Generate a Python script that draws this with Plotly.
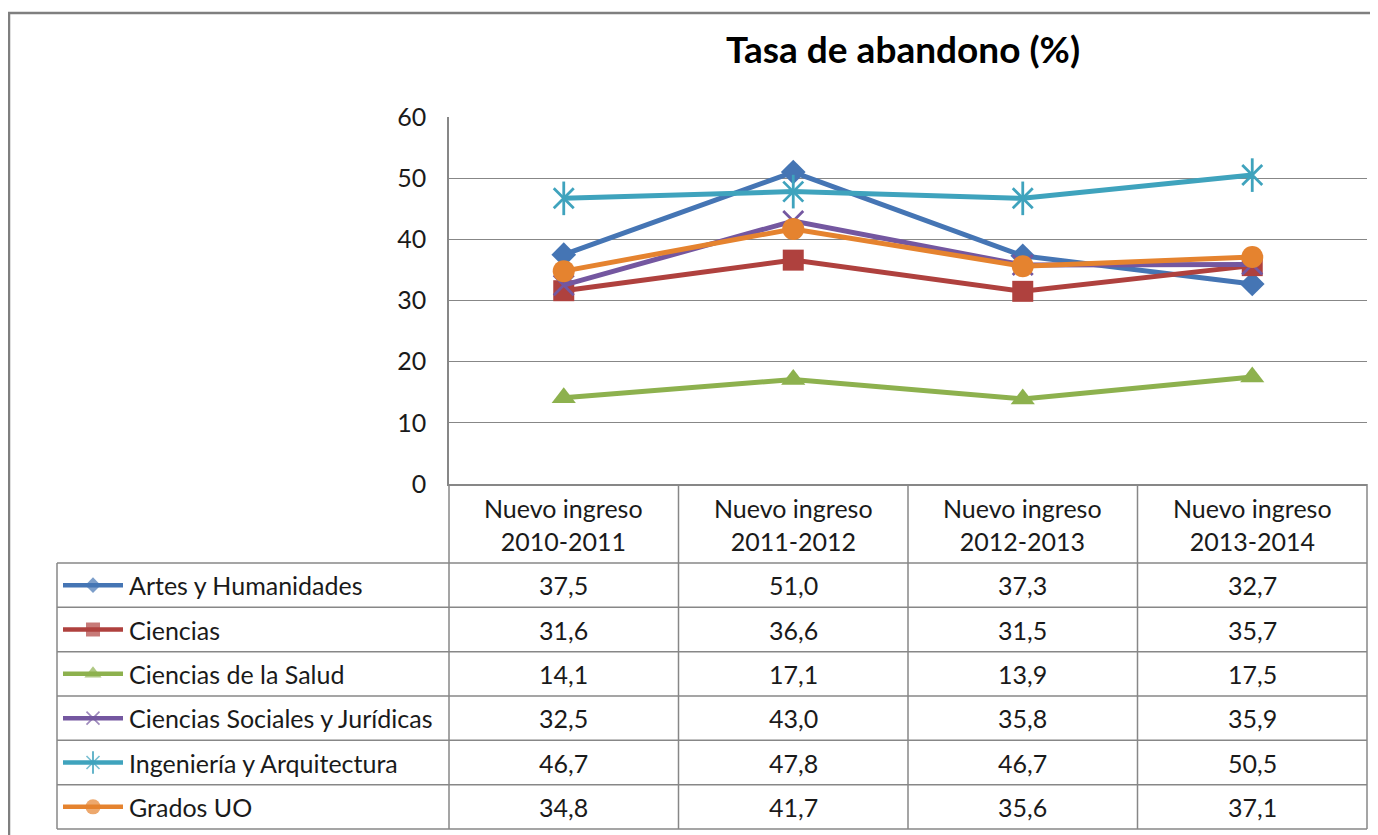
import plotly.graph_objects as go

# ---------------- data ----------------
categories = ["Nuevo ingreso<br>2010-2011", "Nuevo ingreso<br>2011-2012",
              "Nuevo ingreso<br>2012-2013", "Nuevo ingreso<br>2013-2014"]
series_names = ["Artes y Humanidades", "Ciencias", "Ciencias de la Salud",
                "Ciencias Sociales y Jurídicas", "Ingeniería y Arquitectura", "Grados UO"]
artes = [37.5, 51.0, 37.3, 32.7]
ciencias = [31.6, 36.6, 31.5, 35.7]
salud = [14.1, 17.1, 13.9, 17.5]
sociales = [32.5, 43.0, 35.8, 35.9]
ingenieria = [46.7, 47.8, 46.7, 50.5]
grados = [34.8, 41.7, 35.6, 37.1]
y_ticks = [0, 10, 20, 30, 40, 50, 60]
title_text = "Tasa de abandono (%)"

values = [artes, ciencias, salud, sociales, ingenieria, grados]
colors = ["#4575B4", "#AF413E", "#8DB14E", "#7457A0", "#3FA3BD", "#E5832F"]
symbols = ["diamond", "square", "triangle-up", "x-thin-open", "x-thin-open", "circle"]
msizes = [19, 21, 21, 20, 20, 22]          # chart markers
ksizes = [12, 14, 15, 13, 13, 15]          # table legend key markers
STAR = 4  # series drawn with a 6-armed star (x + vertical bar)

W, H = 1378, 835
OFF = 8                     # page offset of the figure inside the browser
FONT = "Lato"
GRID = "#878787"
TXT = "#1a1a1a"
FS = 25

# geometry in screen pixels
PL, PR = 449, 1367
PT, PB = 117, 484
TL = 57
HDR_B = 563
TB = 829
ROW_H = (TB - HDR_B) / len(series_names)

def px(x):
    return (x - OFF) / W

def py(y):
    return 1 - (y - OFF) / H

fig = go.Figure()

# ---------------- chart lines ----------------
for k, (name, vals, c, s, ms) in enumerate(zip(series_names, values, colors, symbols, msizes)):
    open_sym = s.endswith("open")
    fig.add_trace(go.Scatter(
        x=categories, y=vals, mode="lines+markers", name=name,
        line=dict(color=c, width=5),
        marker=dict(symbol=s, size=ms, color=c,
                    line=dict(color=c, width=2.8 if open_sym else 0)),
        showlegend=False, xaxis="x", yaxis="y",
    ))
    if k == STAR:
        fig.add_trace(go.Scatter(
            x=categories, y=vals, mode="markers", name=name,
            marker=dict(symbol="line-ns-open", size=ms + 4, color=c,
                        line=dict(color=c, width=2.8)),
            showlegend=False, xaxis="x", yaxis="y", hoverinfo="skip",
        ))

# ---------------- legend keys inside the table ----------------
KEY_X = [63, 93, 123]
for k, (name, c, s, ks) in enumerate(zip(series_names, colors, symbols, ksizes)):
    yc = HDR_B + ROW_H * (k + 0.5)
    open_sym = s.endswith("open")
    kx = [px(v) * W for v in KEY_X]
    ky = [(1 - py(yc)) * H] * 3
    fig.add_trace(go.Scatter(
        x=kx, y=ky, mode="lines+markers",
        line=dict(color=c, width=4.5),
        marker=dict(symbol=s, size=[0, ks, 0], color=c,
                    line=dict(color=c, width=1.6 if open_sym else 0)),
        showlegend=False, xaxis="x2", yaxis="y2", hoverinfo="skip",
    ))
    if k == STAR:
        fig.add_trace(go.Scatter(
            x=kx[1:2], y=ky[1:2], mode="markers",
            marker=dict(symbol="line-ns-open", size=ks + 3, color=c,
                        line=dict(color=c, width=1.6)),
            showlegend=False, xaxis="x2", yaxis="y2", hoverinfo="skip",
        ))
    fig.add_annotation(x=px(127), y=py(yc), xref="paper", yref="paper",
                       text=name, showarrow=False, xanchor="left", yanchor="middle",
                       font=dict(family=FONT, size=FS, color=TXT))

# ---------------- table texts ----------------
col_w = (PR - PL) / len(categories)
for j, cat in enumerate(categories):
    xc = PL + col_w * (j + 0.5)
    fig.add_annotation(x=px(xc), y=py((PB + HDR_B) / 2 + 1), xref="paper", yref="paper",
                       text=cat, showarrow=False, xanchor="center", yanchor="middle",
                       font=dict(family=FONT, size=FS, color=TXT))
    for i, vals in enumerate(values):
        yc = HDR_B + ROW_H * (i + 0.5)
        fig.add_annotation(x=px(xc), y=py(yc), xref="paper", yref="paper",
                           text=f"{vals[j]:.1f}".replace(".", ","), showarrow=False,
                           xanchor="center", yanchor="middle",
                           font=dict(family=FONT, size=FS, color=TXT))

# ---------------- table lines ----------------
line_style = dict(color=GRID, width=1.5)
shapes = []
for i in range(0, len(series_names) + 1):
    yy = HDR_B + ROW_H * i
    shapes.append(dict(type="line", xref="paper", yref="paper", x0=px(TL), x1=px(PR),
                       y0=py(yy), y1=py(yy), line=line_style))
shapes.append(dict(type="line", xref="paper", yref="paper", x0=px(TL), x1=px(TL),
                   y0=py(HDR_B), y1=py(TB), line=line_style))
for j in range(len(categories) + 1):
    xx = PL + col_w * j
    shapes.append(dict(type="line", xref="paper", yref="paper", x0=px(xx), x1=px(xx),
                       y0=py(PB), y1=py(TB), line=line_style))
# outer chart border (top and left)
shapes.append(dict(type="line", xref="paper", yref="paper", x0=px(8), x1=1.0,
                   y0=py(13), y1=py(13), line=dict(color="#7F7F7F", width=2.5)))
shapes.append(dict(type="line", xref="paper", yref="paper", x0=px(9), x1=px(9),
                   y0=py(13), y1=0, line=dict(color="#7F7F7F", width=2.5)))

fig.update_layout(
    width=W, height=H,
    margin=dict(l=0, r=0, t=0, b=0, autoexpand=False),
    paper_bgcolor="white", plot_bgcolor="rgba(0,0,0,0)",
    title=dict(text=f"<b>{title_text}</b>", x=px(903), y=py(50),
               xanchor="center", yanchor="middle",
               font=dict(family=FONT, size=37, color="#000000")),
    xaxis=dict(domain=[px(PL), px(PR)], range=[-0.5, len(categories) - 0.5],
               showticklabels=False, showgrid=False, zeroline=False, automargin=False,
               showline=True, linecolor=GRID, linewidth=1.5, ticks=""),
    yaxis=dict(domain=[py(PB), py(PT)], range=[0, 60], tickvals=y_ticks,
               showgrid=True, gridcolor=GRID, gridwidth=1.3, zeroline=False,
               showline=True, linecolor=GRID, linewidth=1.5, ticks="",
               ticklabelstandoff=16, automargin=False,
               tickfont=dict(family=FONT, size=FS, color=TXT)),
    xaxis2=dict(domain=[0, 1], range=[0, W], visible=False, fixedrange=True,
                anchor="y2", automargin=False),
    yaxis2=dict(domain=[0, 1], range=[H, 0], visible=False, fixedrange=True,
                anchor="x2", automargin=False),
    shapes=shapes,
    font=dict(family=FONT),
)

fig.write_html("out.html")
